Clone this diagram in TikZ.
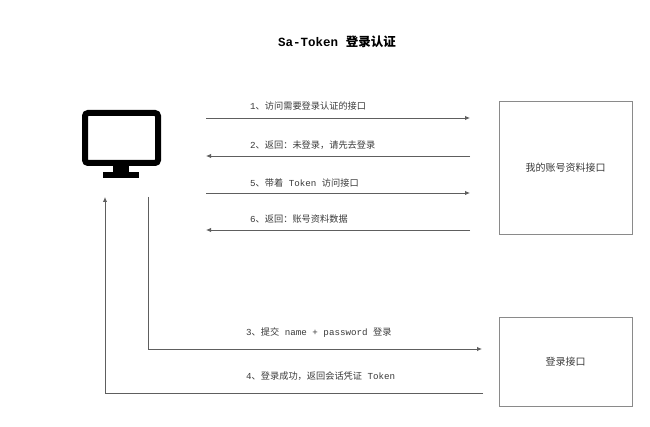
\documentclass[tikz,border=0pt]{standalone}
\usepackage{fontspec}
\setmonofont{Liberation Mono}
\newfontfamily\cjk{Noto Sans CJK SC}
\usepackage{tikz}
\usetikzlibrary{arrows.meta}
\newcommand{\zh}[1]{{\cjk #1}}
\definecolor{linegray}{HTML}{5E5E5E}
\definecolor{boxgray}{HTML}{8A8A8A}
\definecolor{textgray}{HTML}{3A3A3A}
\tikzset{
  msg/.style={draw=linegray,line width=0.9pt,-{Latex[length=5pt,width=4.5pt]}},
  lbl/.style={anchor=west,inner sep=0pt,text=textgray,font=\ttfamily\fontsize{9.2}{10}\selectfont},
  api/.style={draw=boxgray,line width=0.8pt,text=textgray,font=\fontsize{10}{12}\selectfont}
}

\begin{document}
\begin{tikzpicture}[x=1pt,y=-1pt]
                    \useasboundingbox[fill=white](0,0)rectangle(650,427);
                    \node (title) at (337,42){\ttfamily\bfseries\fontsize{12.5}{14}\selectfont Sa-Token \zh{登录认证}};
                    % monitor
                    \draw[line width=6pt,rounded corners=3pt](85,113)rectangle(158,163);
                    \fill(113,165)rectangle(129,173);
                    \fill(103,172)rectangle(139,178);
                    % interfaces
                    \node[api,minimum width=133,minimum height=133] (profile) at (565.5,167.5){\zh{我的账号资料接口}};
                    \node[api,minimum width=133,minimum height=89] (login) at (565.5,361.5){\zh{登录接口}};
                    % profile requests
                    \coordinate (l1) at (206,118); \coordinate (r1) at (470,118);
                    \coordinate (l2) at (206,156); \coordinate (r2) at (470,156);
                    \coordinate (l5) at (206,193); \coordinate (r5) at (470,193);
                    \coordinate (l6) at (206,230); \coordinate (r6) at (470,230);
                    \draw[msg](l1)--(r1);
                    \draw[msg](r2)--(l2);
                    \draw[msg](l5)--(r5);
                    \draw[msg](r6)--(l6);
                    \node[lbl] (t1) at (250,106){1\zh{、访问需要登录认证的接口}};
                    \node[lbl] (t2) at (250,145){2\zh{、返回：未登录，请先去登录}};
                    \node[lbl] (t5) at (250,183){5\zh{、带着} Token \zh{访问接口}};
                    \node[lbl] (t6) at (250,219){6\zh{、返回：账号资料数据}};
                    % login
                    \coordinate (pcout) at (148,197); \coordinate (loginin) at (482,349);
                    \coordinate (pcin) at (105,197); \coordinate (loginout) at (483,393);
                    \draw[msg](pcout)|-(loginin);
                    \draw[msg](loginout)-|(pcin);
                    \node[lbl] (t3) at (246,333){3\zh{、提交} name + password \zh{登录}};
                    \node[lbl] (t4) at (246,376){4\zh{、登录成功，返回会话凭证} Token};
                \end{tikzpicture}
\end{document}
